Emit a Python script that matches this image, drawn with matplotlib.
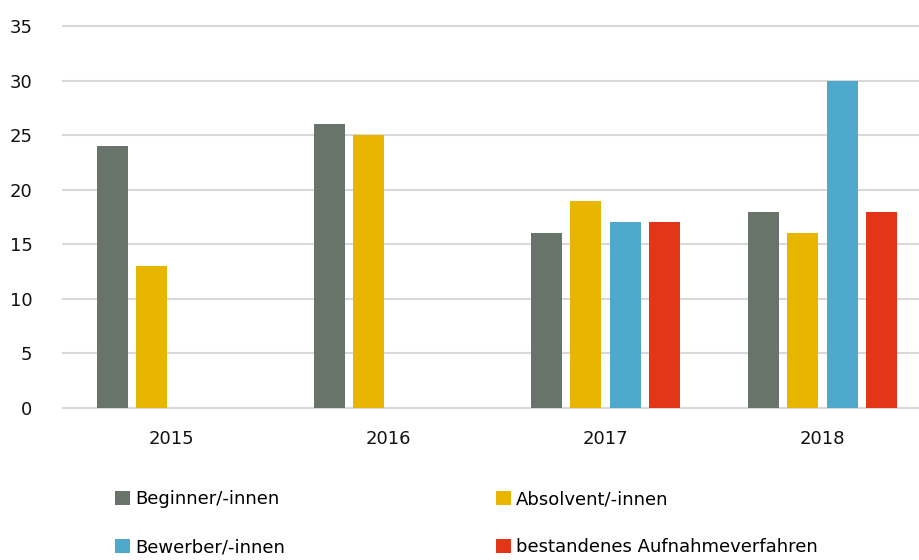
import matplotlib.pyplot as plt
import numpy as np

years = ["2015", "2016", "2017", "2018"]
beginner = [24, 26, 16, 18]
absolvent = [13, 25, 19, 16]
bewerber = [np.nan, np.nan, 17, 30]
aufnahme = [np.nan, np.nan, 17, 18]

labels = ["Beginner/-innen", "Absolvent/-innen", "Bewerber/-innen",
          "bestandenes Aufnahmeverfahren"]
colors = ["#68736a", "#e8b500", "#4fa9cc", "#e33618"]

fig = plt.figure(figsize=(9.2, 5.6), dpi=100)
ax = fig.add_axes([63 / 920, 1 - 408 / 560, (920 - 63) / 920, (408 - 26) / 560])

x = np.arange(len(years))
step = 39.5 / 217
width = 31 / 217
bars = []
for i, (vals, c) in enumerate(zip([beginner, absolvent, bewerber, aufnahme], colors)):
    b = ax.bar(x + (i - 1.5) * step, vals, width, color=c, label=labels[i], zorder=3)
    bars.append(b)

ax.set_xlim(-0.5, 3.5 - 11 / 217)
ax.set_ylim(0, 35)
ax.set_yticks(range(0, 36, 5))
ax.set_xticks(x)
ax.set_xticklabels(years)
ax.tick_params(axis="both", length=0, labelsize=13, colors="#111111")
ax.tick_params(axis="y", pad=22)
ax.tick_params(axis="x", pad=16)
ax.grid(axis="y", color="#d9d9d9", linewidth=1.5, zorder=0)
for gl in ax.get_ygridlines():
    gl.set_clip_on(False)
for s in ax.spines.values():
    s.set_visible(False)

order = [0, 2, 1, 3]
fig.legend([bars[i] for i in order], [labels[i] for i in order],
           loc="upper left", bbox_to_anchor=(99 / 920, 1 - 474 / 560),
           ncol=2, frameon=False, fontsize=13, handlelength=0.8,
           handleheight=0.8, handletextpad=0.3, labelspacing=1.65,
           columnspacing=11.7)

fig.savefig("out.png", dpi=100)
